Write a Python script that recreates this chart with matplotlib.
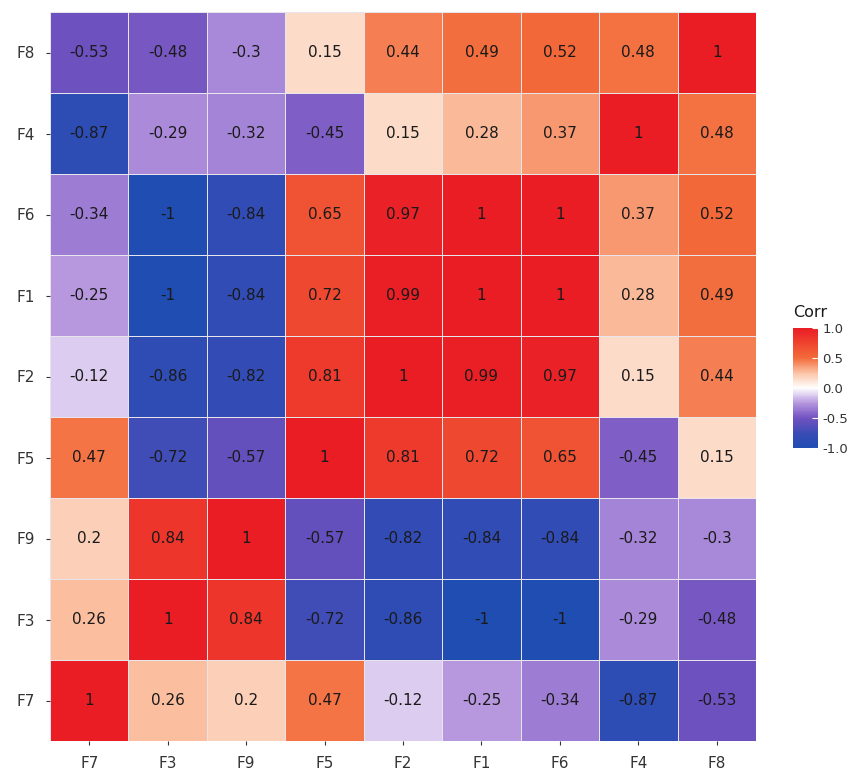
import numpy as np
import matplotlib
matplotlib.use("Agg")
import matplotlib.pyplot as plt
from matplotlib.colors import LinearSegmentedColormap

cols = ["F7", "F3", "F9", "F5", "F2", "F1", "F6", "F4", "F8"]
rows = ["F8", "F4", "F6", "F1", "F2", "F5", "F9", "F3", "F7"]

# correlation values per row (top to bottom), columns in `cols` order
r_F8 = [-0.53, -0.48, -0.3, 0.15, 0.44, 0.49, 0.52, 0.48, 1]
r_F4 = [-0.87, -0.29, -0.32, -0.45, 0.15, 0.28, 0.37, 1, 0.48]
r_F6 = [-0.34, -1, -0.84, 0.65, 0.97, 1, 1, 0.37, 0.52]
r_F1 = [-0.25, -1, -0.84, 0.72, 0.99, 1, 1, 0.28, 0.49]
r_F2 = [-0.12, -0.86, -0.82, 0.81, 1, 0.99, 0.97, 0.15, 0.44]
r_F5 = [0.47, -0.72, -0.57, 1, 0.81, 0.72, 0.65, -0.45, 0.15]
r_F9 = [0.2, 0.84, 1, -0.57, -0.82, -0.84, -0.84, -0.32, -0.3]
r_F3 = [0.26, 1, 0.84, -0.72, -0.86, -1, -1, -0.29, -0.48]
r_F7 = [1, 0.26, 0.2, 0.47, -0.12, -0.25, -0.34, -0.87, -0.53]

M = np.array([r_F8, r_F4, r_F6, r_F1, r_F2, r_F5, r_F9, r_F3, r_F7])

cmap = LinearSegmentedColormap.from_list("corr", [
    (0.0, "#1f4db2"),
    (0.12, "#3a4cb6"),
    (0.25, "#7252c0"),
    (0.375, "#b696de"),
    (0.5, "#ffffff"),
    (0.625, "#fbc4a6"),
    (0.75, "#f36b3a"),
    (1.0, "#ea1d25"),
])

fig = plt.figure(figsize=(8.52, 7.74), dpi=100)
ax = fig.add_axes([50/852, 33/774, 706/852, 729/774])
n = len(rows)
mesh = ax.pcolormesh(np.arange(n+1), np.arange(n+1), M[::-1], cmap=cmap,
                     vmin=-1, vmax=1, edgecolors="#e8e4ec", linewidth=0.6)
ax.set_xlim(0, n)
ax.set_ylim(0, n)
for i in range(n):
    for j in range(n):
        v = M[i, j]
        s = f"{v:g}"
        ax.text(j + 0.5, n - i - 0.5, s, ha="center", va="center",
                fontsize=11, color="#1a1a1a")
ax.set_xticks(np.arange(n) + 0.5)
ax.set_xticklabels(cols)
ax.set_yticks(np.arange(n) + 0.5)
ax.set_yticklabels(rows[::-1])
ax.tick_params(axis="both", length=3, color="#333333", labelsize=11,
               labelcolor="#333333", pad=8)
for s in ax.spines.values():
    s.set_visible(False)

cax = fig.add_axes([793/852, (774-448)/774, 25/852, 120/774])
cb = fig.colorbar(mesh, cax=cax, ticks=[-1, -0.5, 0, 0.5, 1])
cb.ax.set_yticklabels(["-1.0", "-0.5", "0.0", "0.5", "1.0"])
cb.outline.set_visible(False)
cb.ax.tick_params(length=4, color="white", labelsize=9.5, labelcolor="#333333",
                  direction="in", width=0.8, pad=3)
cb.ax.set_title("Corr", loc="left", fontsize=11.5, color="#1a1a1a", pad=8)

fig.savefig("out.png", dpi=100)
